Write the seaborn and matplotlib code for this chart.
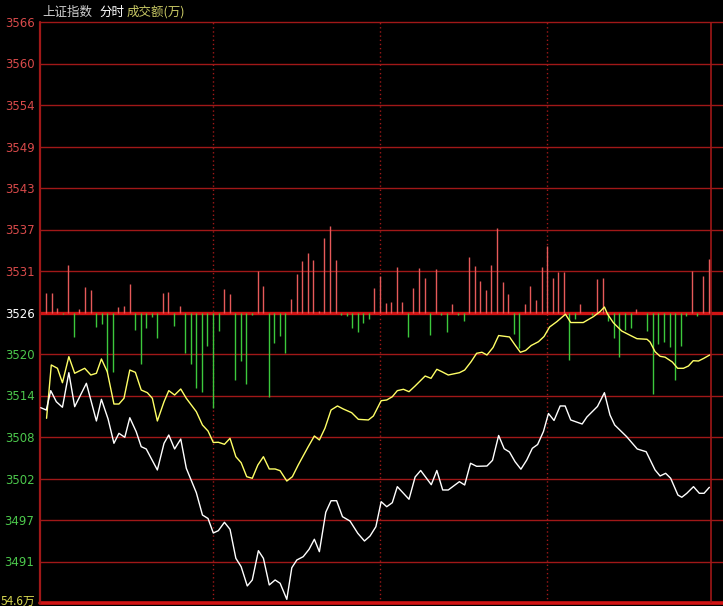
import matplotlib
matplotlib.use("Agg")
import matplotlib.pyplot as plt
import seaborn as sns
import numpy as np

# ---------------- data ----------------
prev_close = 3526.0          # 昨收 (middle line)
tick_step = 5.75             # price step between grid lines
ytick_labels = ["3491", "3497", "3502", "3508", "3514", "3520", "3526",
                "3531", "3537", "3543", "3549", "3554", "3560", "3566"]
ytick_colors = ["#4cc84c"] * 6 + ["#ffffff"] + ["#d84a4a"] * 7
volume_label = "54.6万"

# price line (white), minute of session
white_t = [-1.9, 0.1, 1.7, 3.7, 5.9, 8.2, 10.3, 14.5, 18.1, 19.9, 22.3, 24.4, 26.2, 28.3, 30.1,
           32.4, 34.2, 36.0, 40.0, 42.4, 44.1, 46.2, 48.4, 50.4, 54.0, 56.2, 58.2, 60.1, 61.9,
           64.1, 66.1, 68.2, 70.1, 72.3, 74.1, 76.3, 78.1, 80.2, 82.3, 84.1, 86.5, 88.3, 90.1,
           92.4, 94.5, 96.4, 98.2, 100.5, 102.4, 104.4, 106.5, 109.2, 112.0, 114.4, 116.4, 118.5,
           120.4, 122.4, 124.4, 126.2, 130.4, 132.6, 134.6, 138.4, 140.4, 142.5, 144.5, 148.5,
           150.4, 152.5, 154.7, 158.4, 160.4, 162.6, 164.6, 166.5, 168.5, 170.6, 172.7, 174.7,
           176.6, 178.7, 180.5, 182.5, 184.7, 186.5, 188.5, 192.6, 194.3, 198.1, 200.6, 202.6,
           204.3, 208.6, 212.4, 215.6, 218.8, 220.6, 222.6, 224.4, 227.0, 228.4, 230.2, 232.6,
           234.7, 236.4, 238.3]
white_p = [3512.81, 3512.49, 3515.17, 3513.64, 3512.87, 3517.66, 3512.95, 3516.19, 3510.97,
           3513.97, 3511.24, 3507.88, 3509.26, 3508.71, 3511.42, 3509.48, 3507.41, 3507.09,
           3504.18, 3507.88, 3509.03, 3507.09, 3508.47, 3504.41, 3501.03, 3497.94, 3497.46,
           3495.45, 3495.77, 3496.93, 3495.96, 3491.94, 3490.78, 3488.11, 3488.94, 3493.00,
           3491.94, 3488.25, 3488.94, 3488.48, 3486.26, 3490.64, 3491.71, 3492.17, 3493.19,
           3494.58, 3492.86, 3498.32, 3499.92, 3499.92, 3497.71, 3497.11, 3495.41, 3494.34,
           3495.03, 3496.32, 3499.79, 3499.09, 3499.65, 3501.87, 3500.12, 3503.21, 3504.11,
           3502.14, 3504.11, 3501.41, 3501.41, 3502.56, 3502.10, 3505.11, 3504.69, 3504.73,
           3505.52, 3508.96, 3507.12, 3506.67, 3505.33, 3504.29, 3505.56, 3507.18, 3507.71,
           3509.51, 3512.01, 3511.04, 3513.05, 3513.05, 3511.11, 3510.55, 3511.52, 3512.98,
           3514.89, 3511.80, 3510.41, 3508.79, 3507.09, 3506.71, 3504.18, 3503.35, 3503.72,
           3503.03, 3500.71, 3500.40, 3500.95, 3501.87, 3500.95, 3500.95, 3501.78]

# second line (yellow)
yellow_t = [0.2, 1.9, 4.1, 5.9, 8.2, 10.3, 13.9, 16.1, 18.1, 19.9, 22.0, 24.4, 26.2, 28.0, 30.1,
            32.1, 34.2, 36.4, 38.2, 40.0, 42.4, 44.1, 46.2, 48.4, 50.4, 54.0, 56.2, 58.2, 60.1,
            61.9, 64.1, 66.1, 68.2, 70.1, 72.1, 74.1, 76.1, 78.1, 80.2, 82.3, 84.1, 86.5, 88.5,
            90.6, 94.2, 96.4, 98.2, 100.2, 102.4, 104.7, 106.8, 109.8, 112.2, 115.8, 117.6,
            120.4, 122.4, 124.4, 126.2, 128.4, 130.4, 132.6, 136.2, 138.3, 140.4, 142.2, 144.5,
            148.5, 150.4, 152.7, 154.7, 156.6, 158.4, 160.6, 162.6, 166.5, 168.5, 170.4, 172.3,
            174.3, 176.9, 178.9, 180.9, 183.5, 186.6, 188.5, 193.0, 196.6, 199.0, 200.6, 201.7,
            203.8, 206.8, 210.0, 212.3, 215.9, 217.0, 218.8, 220.6, 222.4, 225.0, 226.9, 229.0,
            230.8, 232.5, 234.4, 236.3, 238.4]
yellow_p = [3511.34, 3518.73, 3518.27, 3516.27, 3519.88, 3517.58, 3518.27, 3517.34, 3517.58,
            3519.56, 3517.80, 3513.32, 3513.32, 3514.11, 3518.03, 3517.71, 3515.26, 3514.89,
            3514.11, 3510.97, 3513.64, 3515.17, 3514.57, 3515.40, 3514.11, 3512.26, 3510.41,
            3509.58, 3507.99, 3508.02, 3507.74, 3508.57, 3506.02, 3505.19, 3503.25, 3503.03,
            3504.87, 3506.02, 3504.32, 3504.32, 3504.08, 3502.65, 3503.25, 3504.87, 3507.41,
            3508.89, 3508.34, 3509.96, 3512.49, 3513.05, 3512.63, 3512.12, 3511.20, 3511.11,
            3511.66, 3513.78, 3513.88, 3514.33, 3515.17, 3515.36, 3515.03, 3515.82, 3517.20,
            3516.88, 3518.13, 3517.80, 3517.34, 3517.66, 3518.03, 3519.18, 3520.35, 3520.49,
            3520.11, 3521.15, 3522.81, 3522.61, 3521.50, 3520.49, 3520.74, 3521.43, 3521.95,
            3522.67, 3523.99, 3524.73, 3525.76, 3524.61, 3524.61, 3525.42, 3526.11, 3526.76,
            3525.79, 3524.59, 3523.44, 3522.81, 3522.37, 3522.29, 3521.91, 3520.57, 3519.93,
            3519.81, 3519.14, 3518.27, 3518.27, 3518.59, 3519.32, 3519.28, 3519.65, 3520.11]

# red / green bars around the middle line (2-minute steps, relative units)
bar_min = [0, 2, 4, 6, 8, 10, 12, 14, 16, 18, 20, 22, 24, 26, 28, 30, 32, 34, 36, 38,
           40, 42, 44, 46, 48, 50, 52, 54, 56, 58, 60, 62, 64, 66, 68, 70, 72, 74, 76, 78,
           80, 82, 84, 86, 88, 90, 92, 94, 96, 98, 100, 102, 104, 106, 108, 110, 112, 114, 116, 118,
           120, 122, 124, 126, 128, 130, 132, 134, 136, 138, 140, 142, 144, 146, 148, 150, 152, 154, 156, 158,
           160, 162, 164, 166, 168, 170, 172, 174, 176, 178, 180, 182, 184, 186, 188, 190, 192, 194, 196, 198,
           200, 202, 204, 206, 208, 210, 212, 214, 216, 218, 220, 222, 224, 226, 228, 230, 232, 234, 236, 238]
bar_val = [19.2, 19.2, 4.8, -1.5, 47.5, -24.8, 3.5, 25.2, 22.5, -14.2,
           -11.2, -59.2, -59.2, 5.2, 6.5, 28.5, -17.5, -51.8, -15.2, -4.2,
           -25.2, 19.2, 20.5, -13.2, 6.5, -40.8, -51.5, -75.2, -79.2, -33.2,
           -95.8, -18.2, 23.5, 18.2, -68.0, -48.2, -71.8, -2.2, 41.8, 26.5,
           -84.8, -30.2, -23.2, -40.8, 13.5, 38.5, 51.5, 59.8, 52.5, 1.8,
           74.8, 86.5, 52.5, -2.5, -3.2, -15.8, -19.2, -10.8, -6.5, 24.5,
           36.5, 9.8, 10.8, 45.8, 10.8, -24.2, 24.8, 44.2, 34.8, -22.5,
           43.5, -2.5, -19.2, 8.5, -2.5, -8.2, 55.8, 46.5, 31.5, 22.5,
           47.5, 84.2, 30.2, 18.5, -21.8, -35.8, 8.5, 26.5, 12.5, 45.8,
           66.5, 34.2, 40.8, 40.2, -47.5, -6.5, 8.5, 0.0, -2.5, 33.5,
           34.8, -8.2, -25.8, -44.2, -17.5, -15.2, 3.5, 0.0, -18.5, -81.5,
           -31.5, -29.2, -34.2, -67.5, -33.2, -3.2, 41.8, -3.2, 36.5, 53.5]

# ---------------- style ----------------
GRID = "#a01818"
BASE = "#d21414"
RED_BAR = "#e65a5a"
GREEN_BAR = "#3cc83c"
bar_scale = 0.13855   # price units per bar unit

sns.set_theme(style="dark", rc={"axes.facecolor": "black", "figure.facecolor": "black",
                                "savefig.facecolor": "black"})
plt.rcParams["font.family"] = ["DejaVu Sans", "Noto Sans CJK SC"]
cjk = ["Noto Sans CJK SC", "DejaVu Sans"]

fig = plt.figure(figsize=(7.23, 6.06), dpi=100)
ax = fig.add_axes([40 / 723, 3 / 606, 683 / 723, 581 / 606])
ax.set_facecolor("black")
x_left, x_right = -2.16, 243.2
y_low = prev_close - 7 * tick_step
y_high = prev_close + 7 * tick_step
ax.set_xlim(x_left, x_right)
ax.set_ylim(y_low, y_high)

# grid lines
for k in range(-6, 8):
    if k == 0:
        continue
    ax.axhline(prev_close + k * tick_step, color=GRID, lw=1.0, zorder=1, clip_on=False)
ax.axhline(prev_close, color=BASE, lw=2.4, zorder=2)
ax.axhline(y_low, color=BASE, lw=2.6, zorder=2, clip_on=False)
for t in (60, 120, 180):
    ax.axvline(t, color=GRID, lw=1.0, ls=(0, (1, 2)), zorder=1)
ax.axvline(x_left, color=GRID, lw=1.6, zorder=2, clip_on=False)
ax.axvline(238.9, color=GRID, lw=1.2, zorder=2)

# bars
bv = np.array(bar_val)
bm = np.array(bar_min)
pos = bv > 0
neg = bv < 0
ax.vlines(bm[pos], prev_close, prev_close + bv[pos] * bar_scale, colors=RED_BAR, lw=1.0, zorder=3)
ax.vlines(bm[neg], prev_close, prev_close + bv[neg] * bar_scale, colors=GREEN_BAR, lw=1.0, zorder=3)

# lines
sns.lineplot(x=yellow_t, y=yellow_p, color="#ffff66", lw=1.0, ax=ax, legend=False, zorder=4)
sns.lineplot(x=white_t, y=white_p, color="#ffffff", lw=1.0, ax=ax, legend=False, zorder=5)

for s in ax.spines.values():
    s.set_visible(False)
ax.grid(False)
ax.set_xticks([])
ax.set_yticks([prev_close + k * tick_step for k in range(-6, 8)])
ax.set_yticklabels(ytick_labels)
for lab, c in zip(ax.get_yticklabels(), ytick_colors):
    lab.set_color(c)
ax.tick_params(axis="y", length=0, pad=4, labelsize=8.5)
ax.set_xlabel("")
ax.set_ylabel("")

# header texts
ty = 1 - 12 / 606
fig.text(42 / 723, ty, "上证指数", color="#d0d0d0", fontsize=9, family=cjk, va="center")
fig.text(99 / 723, ty, "分时", color="#ffffff", fontsize=9, family=cjk, va="center")
fig.text(127 / 723, ty, "成交额(万)", color="#c8c864", fontsize=9, family=cjk, va="center")
fig.text(1 / 723, 1 - 601 / 606, volume_label, color="#d8d850", fontsize=8.5, family=cjk, va="center")

fig.savefig("out.png", dpi=100, facecolor="black")
